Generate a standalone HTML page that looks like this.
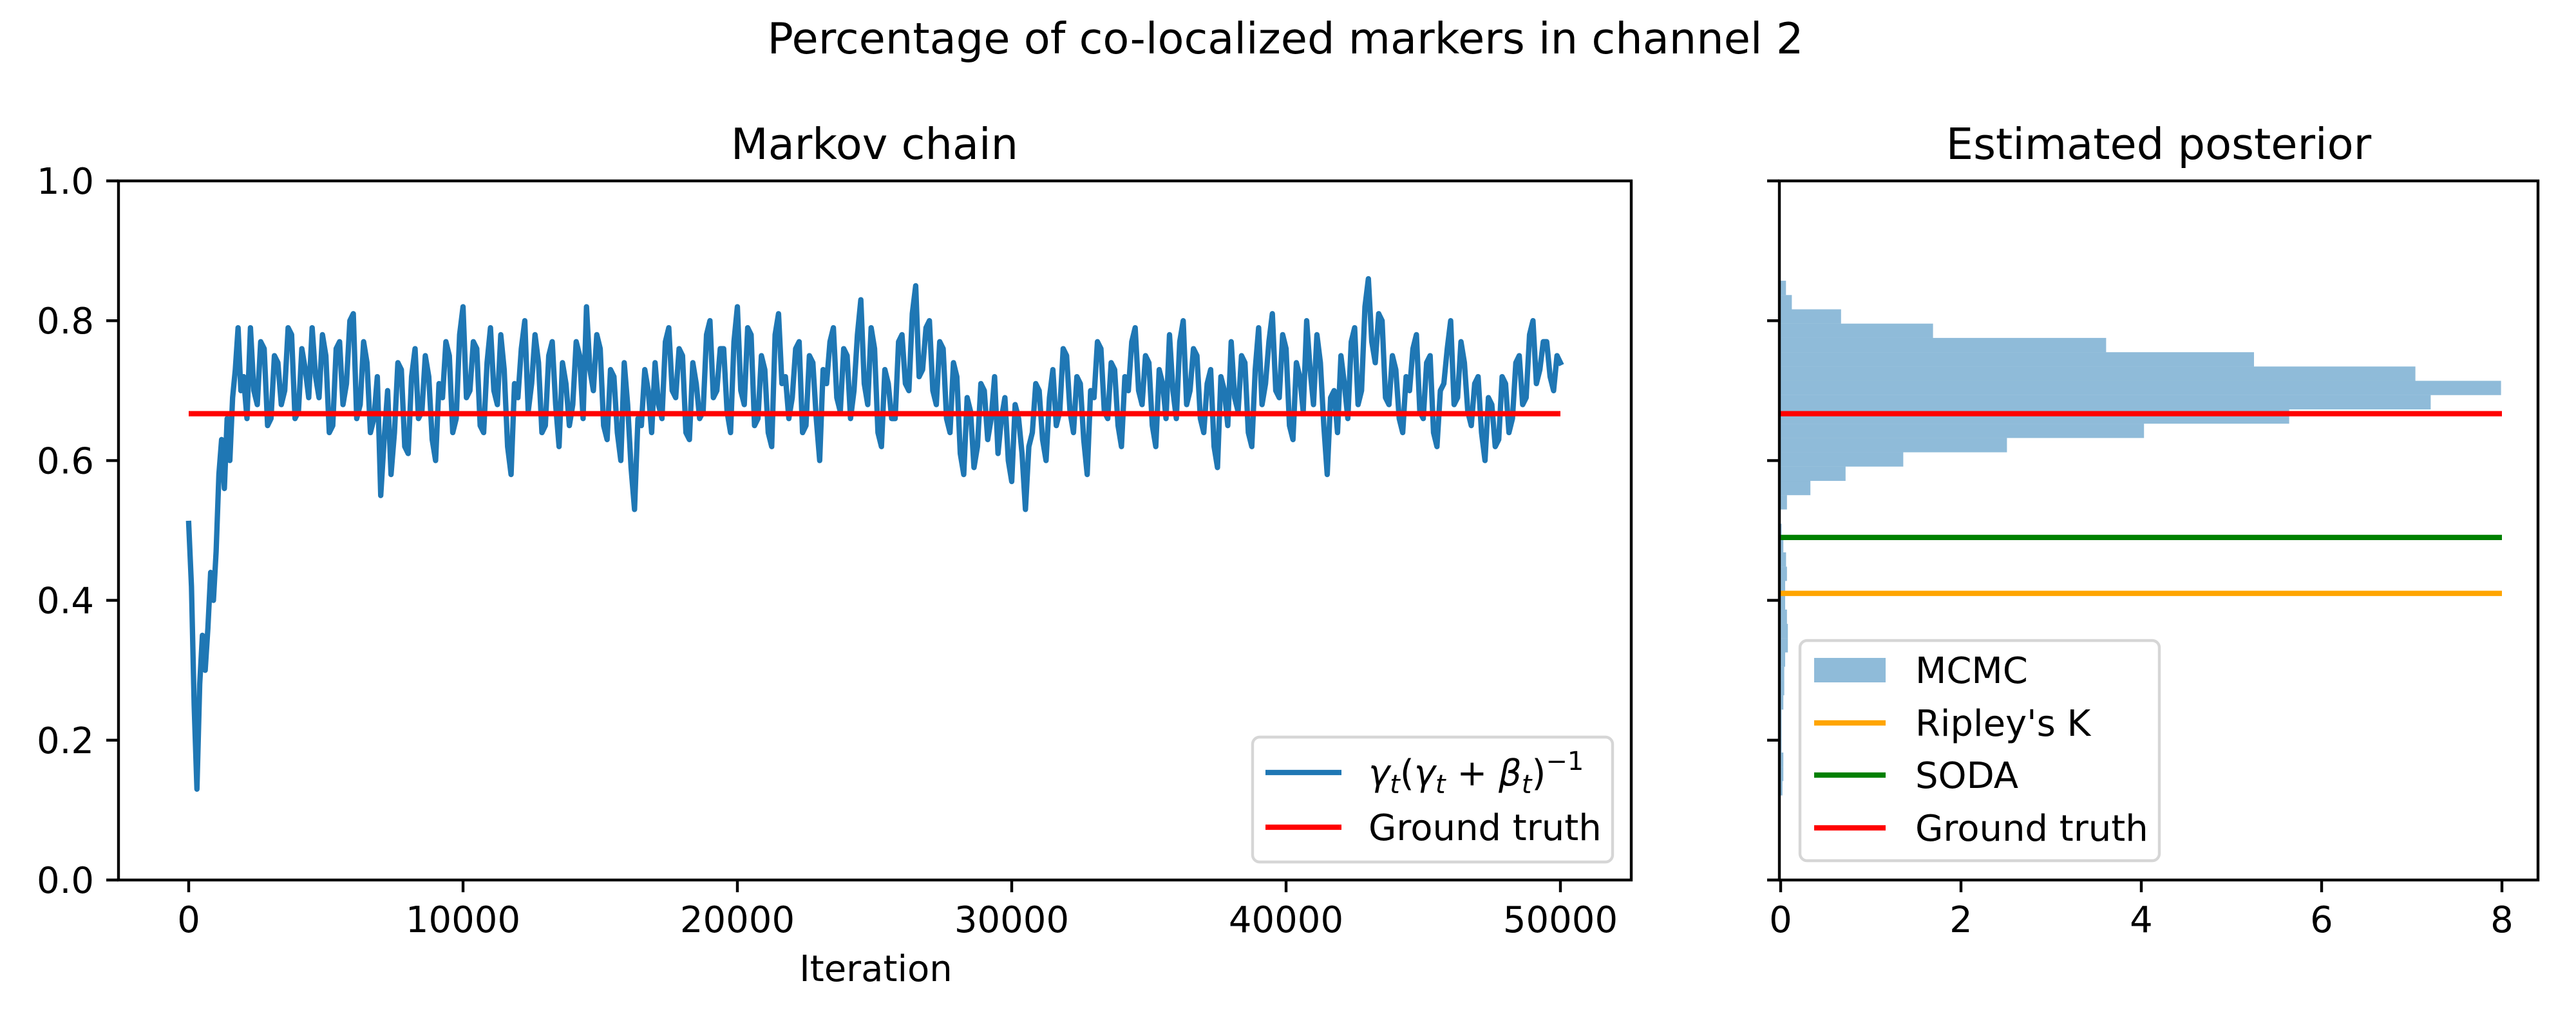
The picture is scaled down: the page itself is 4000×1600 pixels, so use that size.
<!DOCTYPE html>
<html><head><meta charset="utf-8"><style>
html,body{margin:0;padding:0;background:#fff;}
svg{display:block;font-family:"DejaVu Sans","Liberation Sans",sans-serif;}
</style></head><body>
<svg id="fig" width="4000" height="1600" viewBox="0 0 4000 1600" xmlns="http://www.w3.org/2000/svg">
<text x="1996" y="83" font-size="67" text-anchor="middle">Percentage of co-localized markers in channel 2</text>
<text x="1358" y="247" font-size="67" text-anchor="middle">Markov chain</text>
<text x="3352" y="247" font-size="67" text-anchor="middle">Estimated posterior</text>
<g id="left"></g>
<g id="right"></g>
<text x="1360" y="1524" font-size="56" text-anchor="middle">Iteration</text>
</svg>
<script>
const burnX=[0,100,200,300,400,500,600,700,800,900,1000,1100,1200,1300,1400,1500,1600,1700,1800,1900];
const burnY=[0.51,0.42,0.25,0.13,0.28,0.35,0.30,0.36,0.44,0.40,0.47,0.58,0.63,0.56,0.66,0.60,0.69,0.73,0.79,0.70];
const chainStart=2000, chainStep=250;
const chainY=[
0.72,0.79,0.68,0.76,0.66,0.74,0.70,0.78,0.67,0.73,
0.79,0.69,0.75,0.65,0.77,0.71,0.81,0.68,0.74,0.66,
0.55,0.70,0.64,0.73,0.61,0.76,0.67,0.72,0.60,0.69,
0.75,0.66,0.82,0.70,0.76,0.64,0.79,0.68,0.73,0.58,
0.69,0.80,0.71,0.74,0.65,0.77,0.62,0.71,0.68,0.75,
0.82,0.70,0.76,0.63,0.72,0.60,0.68,0.53,0.65,0.70,
0.74,0.66,0.79,0.69,0.75,0.63,0.71,0.67,0.80,0.70,
0.76,0.64,0.82,0.68,0.78,0.66,0.73,0.62,0.81,0.72,
0.69,0.77,0.65,0.74,0.60,0.71,0.79,0.67,0.75,0.70,
0.83,0.68,0.76,0.62,0.71,0.66,0.78,0.70,0.85,0.73,
0.80,0.68,0.76,0.64,0.72,0.58,0.67,0.62,0.70,0.66,
0.61,0.69,0.57,0.66,0.53,0.64,0.70,0.60,0.73,0.67,
0.75,0.64,0.71,0.58,0.69,0.76,0.66,0.73,0.62,0.70,
0.79,0.68,0.74,0.62,0.71,0.78,0.66,0.80,0.70,0.75,
0.64,0.73,0.59,0.70,0.77,0.67,0.74,0.62,0.79,0.71,
0.81,0.69,0.76,0.63,0.72,0.80,0.68,0.74,0.58,0.70,
0.75,0.66,0.79,0.70,0.86,0.74,0.80,0.68,0.73,0.64,
0.70,0.78,0.66,0.75,0.62,0.71,0.80,0.69,0.74,0.65,
0.72,0.60,0.68,0.63,0.71,0.66,0.75,0.69,0.80,0.73,
0.77,0.70,0.74];
const chainYMid=[
0.66,0.70,0.77,0.65,0.75,0.68,0.79,0.66,0.76,0.69,
0.72,0.78,0.64,0.76,0.68,0.80,0.66,0.77,0.64,0.72,
0.63,0.58,0.74,0.62,0.72,0.66,0.75,0.63,0.71,0.77,
0.64,0.78,0.69,0.77,0.65,0.74,0.70,0.78,0.62,0.71,
0.76,0.67,0.78,0.64,0.75,0.68,0.74,0.65,0.77,0.66,
0.73,0.78,0.65,0.73,0.64,0.74,0.59,0.66,0.73,0.64,
0.68,0.77,0.70,0.76,0.64,0.74,0.66,0.78,0.69,0.76,
0.67,0.77,0.70,0.79,0.65,0.75,0.64,0.78,0.71,0.66,
0.76,0.64,0.75,0.66,0.73,0.77,0.69,0.76,0.66,0.78,
0.71,0.79,0.64,0.73,0.66,0.77,0.71,0.81,0.72,0.79,
0.70,0.77,0.66,0.74,0.61,0.69,0.59,0.71,0.63,0.72,
0.66,0.60,0.68,0.61,0.62,0.71,0.63,0.69,0.65,0.76,
0.67,0.72,0.63,0.70,0.77,0.67,0.74,0.65,0.72,0.77,
0.70,0.75,0.65,0.73,0.66,0.70,0.77,0.68,0.76,0.66,
0.71,0.62,0.72,0.65,0.69,0.75,0.64,0.73,0.68,0.77,
0.70,0.78,0.65,0.74,0.67,0.73,0.78,0.65,0.69,0.64,
0.71,0.77,0.68,0.82,0.77,0.81,0.69,0.75,0.66,0.72,
0.76,0.67,0.74,0.64,0.70,0.76,0.68,0.77,0.67,0.71,
0.64,0.69,0.62,0.72,0.64,0.74,0.68,0.78,0.71,0.77,
0.72,0.75,0.71];
const groundTruth=0.667;
const ripleyK=0.410;
const soda=0.490;
const histStart=0.121, histBinWidth=0.02045;
const histCounts=[0.02,0.03,0.03,0.01,0.01,0.01,0.03,0.04,0.04,0.05,0.08,0.08,0.07,0.05,0.05,0.07,0.06,0.03,0.01,0.0,0.07,0.33,0.72,1.36,2.51,4.03,5.64,7.21,7.99,7.04,5.25,3.61,1.69,0.67,0.124,0.059];
const leftXTicks=[0,10000,20000,30000,40000,50000];
const rightXTicks=[0,2,4,6,8];
const yTicks=[0.0,0.2,0.4,0.6,0.8,1.0];

const NS="http://www.w3.org/2000/svg";
function mk(parent,tag,attrs){const e=document.createElementNS(NS,tag);for(const k in attrs)e.setAttribute(k,attrs[k]);parent.appendChild(e);return e;}
const L={x0:184,x1:2533,y0:281,y1:1367,xmin:-2559,xmax:52582};
const R={x0:2763,x1:3941};
const yS=v=>L.y1-(v)*(L.y1-L.y0);
const lxS=v=>L.x0+(v-L.xmin)/(L.xmax-L.xmin)*(L.x1-L.x0);
const rxS=v=>2765+v*140;

const left=document.getElementById('left'), right=document.getElementById('right');
let pts=[];
for(let i=0;i<burnX.length;i++)pts.push(lxS(burnX[i]).toFixed(1)+','+yS(burnY[i]).toFixed(1));
for(let i=0;i<chainY.length;i++){
 pts.push(lxS(chainStart+i*chainStep).toFixed(1)+','+yS(chainY[i]).toFixed(1));
 if(i<chainYMid.length && i<chainY.length-1)pts.push(lxS(chainStart+i*chainStep+chainStep/2).toFixed(1)+','+yS(chainYMid[i]).toFixed(1));
}
const chain=mk(left,'polyline',{points:pts.join(' '),fill:'none',stroke:'#1f77b4','stroke-width':8.3,'stroke-linejoin':'round','stroke-linecap':'square'});


const gt=mk(left,'line',{x1:lxS(0),x2:lxS(50000),y1:yS(groundTruth),y2:yS(groundTruth),stroke:'#ff0000','stroke-width':8.3});


const lf=mk(left,'rect',{x:L.x0,y:L.y0,width:L.x1-L.x0,height:L.y1-L.y0,fill:'none',stroke:'#000','stroke-width':4.4});


leftXTicks.forEach(t=>{const x=lxS(t);
 const tk=mk(left,'line',{x1:x,x2:x,y1:L.y1,y2:L.y1+19,stroke:'#000','stroke-width':4.4});
 
 
 const tx=mk(left,'text',{x:x,y:1448,'font-size':56,'text-anchor':'middle'});tx.textContent=String(t);
 
 
});
yTicks.forEach(t=>{const y=yS(t);
 const tk=mk(left,'line',{x1:L.x0-19,x2:L.x0,y1:y,y2:y,stroke:'#000','stroke-width':4.4});
 
 
 const tx=mk(left,'text',{x:146,y:y+20,'font-size':56,'text-anchor':'end'});tx.textContent=t.toFixed(1);
 
 
 const tk2=mk(right,'line',{x1:R.x0-19,x2:R.x0,y1:y,y2:y,stroke:'#000','stroke-width':4.4});
 
 
});
const lg=mk(left,'g',{});


mk(lg,'rect',{x:1945,y:1145,width:559,height:194,rx:11,fill:'#fff','fill-opacity':0.8,stroke:'#d6d6d6','stroke-width':4.4});
mk(lg,'line',{x1:1965,x2:2083,y1:1200,y2:1200,stroke:'#1f77b4','stroke-width':8.3});
const mt=mk(lg,'text',{x:2125,y:1220,'font-size':56,'font-style':'italic'});
mt.innerHTML='γ<tspan font-size="40" dy="12">t</tspan><tspan dy="-12" font-style="normal">(</tspan>γ<tspan font-size="40" dy="12">t</tspan><tspan dy="-12" font-style="normal"> + </tspan>β<tspan font-size="40" dy="12">t</tspan><tspan dy="-12" font-style="normal">)</tspan><tspan font-size="40" dy="-24" font-style="normal">−1</tspan>';
mk(lg,'line',{x1:1965,x2:2083,y1:1285,y2:1285,stroke:'#ff0000','stroke-width':8.3});
const gtt=mk(lg,'text',{x:2125,y:1305,'font-size':56});gtt.textContent='Ground truth';

histCounts.forEach((c,i)=>{ if(c<=0)return;
 const lo=histStart+i*histBinWidth, hi=lo+histBinWidth;
 const r=mk(right,'rect',{x:rxS(0),y:yS(hi),width:rxS(c)-rxS(0),height:yS(lo)-yS(hi),fill:'#1f77b4','fill-opacity':0.5});
 
 
});
[[ripleyK,'#ffa500','ripley-k-line'],[soda,'#008000','soda-line'],[groundTruth,'#ff0000','posterior-ground-truth-line']].forEach(a=>{
 const ln=mk(right,'line',{x1:rxS(0),x2:rxS(8),y1:yS(a[0]),y2:yS(a[0]),stroke:a[1],'stroke-width':8.3});
 
 
});
const rf=mk(right,'rect',{x:R.x0,y:L.y0,width:R.x1-R.x0,height:L.y1-L.y0,fill:'none',stroke:'#000','stroke-width':4.4});


rightXTicks.forEach(t=>{const x=rxS(t);
 const tk=mk(right,'line',{x1:x,x2:x,y1:L.y1,y2:L.y1+19,stroke:'#000','stroke-width':4.4});
 
 
 const tx=mk(right,'text',{x:x,y:1448,'font-size':56,'text-anchor':'middle'});tx.textContent=String(t);
 
 
});
const rg=mk(right,'g',{});


mk(rg,'rect',{x:2795,y:995,width:558,height:342,rx:11,fill:'#fff','fill-opacity':0.8,stroke:'#d6d6d6','stroke-width':4.4});
mk(rg,'rect',{x:2817,y:1022,width:111,height:38,fill:'#1f77b4','fill-opacity':0.5});
[['MCMC',1041,null],["Ripley's K",1123,'#ffa500'],['SODA',1204,'#008000'],['Ground truth',1286,'#ff0000']].forEach(a=>{
 if(a[2])mk(rg,'line',{x1:2817,x2:2928,y1:a[1],y2:a[1],stroke:a[2],'stroke-width':8.3});
 const t=mk(rg,'text',{x:2974,y:a[1]+20,'font-size':56});t.textContent=a[0];
});
</script>
</body></html>
